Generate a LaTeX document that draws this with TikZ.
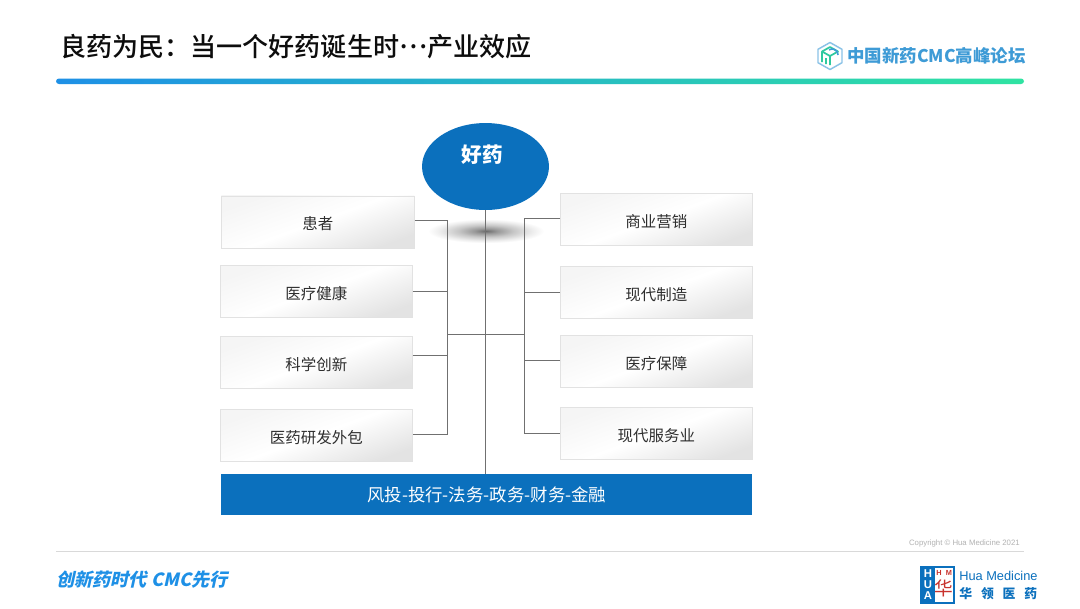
\documentclass[tikz,border=0pt]{standalone}
\usepackage{fontspec}
\setmainfont{Noto Sans CJK SC}
\newfontfamily\slantcjk[FakeSlant=0.22]{Noto Sans CJK SC}
\newfontfamily\mediumcjk{Noto Sans CJK SC Medium}
\newfontfamily\latinsans{Liberation Sans}
\usetikzlibrary{calc,shapes.geometric}
\definecolor{huablue}{HTML}{0B70BD}
\definecolor{barblue}{HTML}{1E90E6}
\definecolor{bargreen}{HTML}{2FE3A2}
\definecolor{boxedge}{HTML}{E2E2E2}
\definecolor{linegray}{HTML}{707070}
\definecolor{logoblue}{HTML}{3E9BD6}
\definecolor{logogreen}{HTML}{2FC9A0}
\definecolor{sealred}{HTML}{C8322D}
\pgfdeclareradialshading{blurshadow}{\pgfpoint{0bp}{0bp}}{color(0bp)=(black!58); color(5bp)=(black!40); color(12bp)=(black!22); color(20bp)=(black!7); color(25bp)=(white); color(50bp)=(white)}
\newcommand\cardlabel[1]{\raisebox{-1.4pt}[\height][\depth]{#1}}
\tikzset{
  px/.style={x=0.75pt,y=-0.75pt},
  cardbox/.style={draw=boxedge,line width=0.5pt,shading=axis,top color=white!96!black,bottom color=black!11,middle color=white,shading angle=20,
    font=\fontsize{11.6pt}{14pt}\selectfont,text=black!82,inner sep=0pt,anchor=north west,minimum width=144pt,minimum height=39pt},
  bus/.style={draw=linegray,line width=0.55pt},
  freetext/.style={inner sep=0pt,anchor=west},
}
\begin{document}
\begin{tikzpicture}[px]
\useasboundingbox[fill=white] (0,0) rectangle (1080,608);

% header
\node[freetext,font=\mediumcjk\fontsize{19.55pt}{22pt}\selectfont,text=black!95] (title) at (60,47) {良药为民：当一个好药诞生时\raisebox{0.32em}{…}产业效应};
\shade[left color=barblue,right color=bargreen,rounded corners=2.2pt] (56,78.5) rectangle (1024,84);

% header logo
\draw[logoblue!60,line width=1.1pt,line join=round] (830,42.5)--(842,49.3)--(842,62.7)--(830,69.5)--(818,62.7)--(818,49.3)--cycle;
\draw[logogreen,line width=1.3pt,line join=round] (830,47)--(838,51.5)--(830,56)--(822,51.5)--cycle (822,51.5)--(822,62) (830,56)--(830,65) (826,58)--(826,64);
\draw[logoblue,line width=1.2pt] (838,55) arc (0:-120:6);
\node[freetext,font=\fontsize{13.1pt}{15pt}\selectfont\bfseries,text=logoblue] (brand) at (847,56) {中国新药CMC高峰论坛};

% shadow under ellipse
\shade[shading=blurshadow] (428,219) rectangle (544,243);

% central shape
\node[ellipse,fill=huablue,minimum width=95.2pt,minimum height=65.2pt,inner sep=0pt] (drug) at (485.5,166.5) {};
\node[font=\fontsize{15.5pt}{18pt}\selectfont\bfseries,text=white,inner sep=0pt] (drugtext) at (482,154.5) {好药};

% cards
\node[cardbox,minimum width=144.8pt] (a1) at (221,195.5) {\cardlabel{患者}};
\node[cardbox] (a2) at (220,265) {\cardlabel{医疗健康}};
\node[cardbox] (a3) at (220,336) {\cardlabel{科学创新}};
\node[cardbox] (a4) at (220,409) {\cardlabel{医药研发外包}};
\node[cardbox] (b1) at (560,193) {\cardlabel{商业营销}};
\node[cardbox] (b2) at (560,266) {\cardlabel{现代制造}};
\node[cardbox] (b3) at (560,335) {\cardlabel{医疗保障}};
\node[cardbox] (b4) at (560,407) {\cardlabel{现代服务业}};

% bottom bar
\node[fill=huablue,minimum width=398.25pt,minimum height=30.75pt,inner sep=0pt,anchor=north west,text=white,font=\fontsize{13.05pt}{15pt}\selectfont] (bar) at (221,474) {风投-投行-法务-政务-财务-金融};

% connectors
\coordinate (la1) at (447,220);
\coordinate (la2) at (447,291);
\coordinate (la3) at (447,355);
\coordinate (la4) at (447,434);
\coordinate (lb1) at (524,218);
\coordinate (lb2) at (524,292);
\coordinate (lb3) at (524,360);
\coordinate (lb4) at (524,433);
\coordinate (mid) at (486,334);
\draw[bus] (la1 -| a1.east) -- (la1) -- (la4) -- (la4 -| a4.east);
\draw[bus] (la2 -| a2.east) -- (la2);
\draw[bus] (la3 -| a3.east) -- (la3);
\draw[bus] (lb1 -| b1.west) -- (lb1) -- (lb4) -- (lb4 -| b4.west);
\draw[bus] (lb2 -| b2.west) -- (lb2);
\draw[bus] (lb3 -| b3.west) -- (lb3);
\draw[bus] (drug.south) -- (drug.south |- bar.north);
\draw[bus] (mid -| la1) -- (mid -| lb1);

% footer
\draw[black!15,line width=0.8pt] (56,551.5) -- (1024,551.5);
\node[inner sep=0pt,anchor=east,font=\latinsans\fontsize{5.85pt}{7pt}\selectfont,text=black!30] (copy) at (1020,543.5) {Copyright © Hua Medicine 2021};
\node[freetext,font=\slantcjk\fontsize{13.6pt}{15pt}\selectfont\bfseries,text=barblue] (slogan) at (56,580) {创新药时代 CMC先行};

% Hua Medicine seal
\draw[huablue,fill=white,line width=0.8pt] (921,567) rectangle (954,603);
\fill[huablue] (921,567) rectangle (935,603);
\node[text=white,font=\latinsans\fontsize{8.5pt}{9pt}\selectfont\bfseries,inner sep=0pt] (sh) at (928,574) {H};
\node[text=white,font=\latinsans\fontsize{8.5pt}{9pt}\selectfont\bfseries,inner sep=0pt] (su) at (928,585) {U};
\node[text=white,font=\latinsans\fontsize{8.5pt}{9pt}\selectfont\bfseries,inner sep=0pt] (sa) at (928,596) {A};
\node[text=sealred,font=\latinsans\fontsize{5.5pt}{6pt}\selectfont\bfseries,inner sep=0pt] (sh2) at (939,573) {H};
\node[text=sealred,font=\latinsans\fontsize{5.5pt}{6pt}\selectfont\bfseries,inner sep=0pt] (sm) at (949,573) {M};
\node[text=sealred,font=\fontsize{14pt}{15pt}\selectfont,inner sep=0pt] (sglyph) at (944,588) {华};
\node[freetext,font=\latinsans\fontsize{9.6pt}{10pt}\selectfont,text=huablue] (hua) at (959,575.5) {Hua Medicine};
\node[freetext,font=\fontsize{9.6pt}{11pt}\selectfont\bfseries,text=huablue] (huacn) at (959,594) {华\hspace{6.7pt}领\hspace{6.7pt}医\hspace{6.7pt}药};
\end{tikzpicture}
\end{document}
